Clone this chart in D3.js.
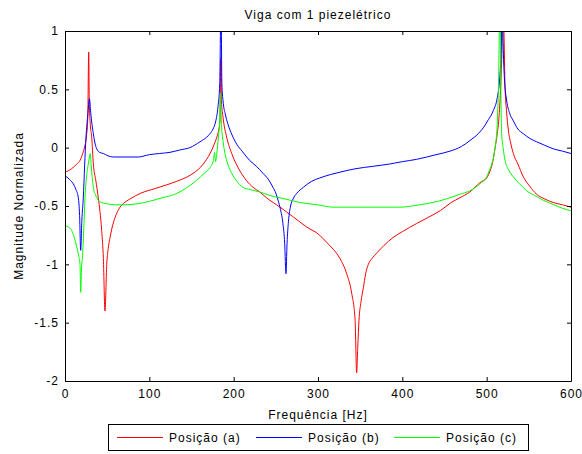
<!DOCTYPE html>
<html>
<head>
<meta charset="utf-8">
<script src="https://cdn.jsdelivr.net/npm/d3@7"></script>
<style>
  html, body { margin: 0; padding: 0; background: #fff; }
  text { font-family: "Liberation Sans", Arial, Helvetica, sans-serif; }
</style>
</head>
<body>
<svg id="chart" width="582" height="454"></svg>
<script>
// ---- data (frequency in Hz, normalized magnitude) ----
const titleText = "Viga com 1 piezelétrico";
const xLabel = "Frequência [Hz]";
const yLabel = "Magnitude Normalizada";
const seriesNames = ["Posição (a)", "Posição (b)", "Posição (c)"];
const seriesColors = ["#ff0000", "#0000ff", "#00ff00"];
const xTicks = [0, 100, 200, 300, 400, 500, 600];
const yTicks = [1, 0.5, 0, -0.5, -1, -1.5, -2];
const yTickLabels = ["1", "0.5", "0", "-0.5", "-1", "-1.5", "-2"];

const seriesA = [
  [0,-0.21],[8,-0.18],[14,-0.14],[17.8,-0.11],[21,-0.05],[23.7,0.02],[25.5,0.10],[27,0.25],[28.1,0.82],[28.8,0.40],
  [30,0.20],[31.7,0.09],[33.6,-0.14],[36.5,-0.28],[39.5,-0.43],[43.5,-0.71],[45.5,-0.95],[47.4,-1.40],[49.5,-1.0],[51.5,-0.85],
  [53.4,-0.77],[56,-0.68],[59.3,-0.60],[65.2,-0.51],[69,-0.48],[77,-0.44],[90,-0.39],[107,-0.35],[120,-0.32],[132,-0.29],
  [145,-0.25],[152,-0.22],[164,-0.14],[172,-0.05],[177,0.03],[180,0.09],[182.5,0.16],[183.8,0.23],[184.6,0.77],[185.5,0.40],
  [187.4,0.26],[191.7,0.09],[197.7,-0.05],[207.5,-0.20],[215,-0.28],[223,-0.34],[231,-0.38],[239,-0.43],[255,-0.51],[270,-0.59],
  [286.6,-0.68],[302,-0.75],[310,-0.81],[318,-0.87],[326,-0.95],[334,-1.08],[340,-1.25],[344,-1.48],[345.8,-1.93],[347.2,-1.70],
  [348.6,-1.48],[351,-1.32],[353.8,-1.20],[356.5,-1.08],[359.7,-1.0],[364,-0.95],[370,-0.90],[378,-0.84],[389,-0.77],[400,-0.72],
  [417,-0.65],[430,-0.60],[445,-0.54],[458,-0.47],[468,-0.43],[480,-0.38],[492,-0.30],[500,-0.26],[504,-0.20],[507.5,-0.11],
  [510,0.0],[512,0.09],[514.5,0.25],[516.5,0.50],[518,0.80],[519.5,1.30],[520.5,1.00],[521.8,0.52],[523.5,0.32],[525.7,0.15],
  [528.5,0.04],[531.6,-0.05],[537,-0.14],[543.5,-0.25],[551,-0.33],[559.3,-0.40],[569,-0.44],[579,-0.47],[590,-0.49],[600,-0.51]
];

const seriesB = [
  [0,-0.24],[5,-0.27],[9.8,-0.31],[13,-0.36],[15.8,-0.43],[17.3,-0.58],[18.6,-0.88],[20,-0.62],[21.7,-0.43],[23.3,-0.15],
  [24.9,0.09],[27,0.28],[29,0.42],[30.5,0.30],[32,0.20],[33.6,0.12],[35.5,0.04],[37.6,-0.01],[41,-0.04],[45.4,-0.05],
  [51,-0.07],[57.3,-0.08],[70,-0.08],[87,-0.08],[100,-0.06],[112,-0.05],[124.5,-0.04],[136,-0.02],[148,0.0],[160,0.05],
  [168,0.09],[172,0.12],[175.5,0.16],[178.5,0.22],[181.4,0.35],[183.5,0.55],[185,1.30],[186,0.55],[187.4,0.40],[190,0.29],
  [193.3,0.20],[198,0.11],[203.6,0.03],[210,-0.03],[219,-0.11],[227,-0.16],[234.8,-0.22],[241,-0.27],[246.6,-0.34],[250,-0.39],
  [252.6,-0.45],[255.5,-0.53],[258.4,-0.65],[260.5,-0.82],[262,-1.08],[263.3,-0.82],[265,-0.63],[267.5,-0.50],[270.4,-0.44],[275,-0.39],
  [282.6,-0.34],[292,-0.29],[302,-0.26],[315,-0.23],[326,-0.21],[345,-0.18],[365,-0.16],[385,-0.14],[400,-0.12],[417,-0.10],
  [440,-0.06],[456.5,-0.03],[470,0.01],[480,0.06],[490,0.12],[496,0.17],[502,0.24],[508,0.32],[512.6,0.43],[515.5,0.60],
  [517.5,0.90],[518.5,1.30],[519.5,0.90],[521,0.60],[523.8,0.40],[527,0.30],[531.6,0.23],[537,0.16],[543.5,0.12],[551,0.08],
  [559.3,0.05],[569,0.02],[579,-0.01],[590,-0.03],[600,-0.05]
];

const seriesC = [
  [0,-0.67],[4,-0.68],[7.9,-0.71],[11,-0.77],[13.9,-0.85],[16,-0.92],[17.8,-1.0],[18.6,-1.24],[19.5,-1.05],[21,-0.90],
  [22.5,-0.65],[23.7,-0.43],[25.5,-0.25],[27.6,-0.14],[29,-0.08],[30,-0.05],[31,-0.15],[32.2,-0.25],[33.6,-0.34],[36,-0.40],
  [39.5,-0.45],[43.5,-0.47],[49.4,-0.48],[59.3,-0.49],[70,-0.49],[86.6,-0.48],[100,-0.46],[115,-0.43],[130,-0.40],[145,-0.34],
  [156,-0.28],[165,-0.22],[172,-0.17],[176,-0.11],[177.3,-0.04],[178.5,-0.12],[180,-0.05],[182,0.10],[183.5,0.25],[184.2,0.47],
  [185,0.30],[185.8,0.17],[187.5,0.05],[189.7,-0.05],[193,-0.14],[197.7,-0.22],[204,-0.29],[211,-0.34],[220,-0.36],[231,-0.38],
  [243,-0.41],[255,-0.43],[266.8,-0.45],[278.7,-0.47],[300,-0.49],[317.8,-0.51],[350,-0.51],[397,-0.51],[420,-0.49],[436,-0.47],
  [452,-0.44],[468,-0.40],[480,-0.37],[492,-0.31],[500,-0.25],[503,-0.20],[506,-0.14],[508.5,-0.07],[510,0.0],[512.5,0.20],
  [514,0.52],[516,1.30],[517,0.40],[517.8,0.12],[519.5,0.0],[521.8,-0.11],[526,-0.19],[531.6,-0.25],[539,-0.31],[547.5,-0.37],
  [557,-0.41],[567,-0.45],[580,-0.49],[590,-0.52],[600,-0.54]
];

const allSeries = [seriesA, seriesB, seriesC];

// ---- layout ----
const plot = { left: 65, right: 571, top: 31, bottom: 381 };
const svg = d3.select("#chart");

const x = d3.scaleLinear().domain([0, 600]).range([plot.left, plot.right]);
const y = d3.scaleLinear().domain([-2, 1]).range([plot.bottom, plot.top]);

svg.append("rect").attr("width", 582).attr("height", 454).attr("fill", "#fff");

svg.append("defs").append("clipPath").attr("id", "clip")
  .append("rect")
  .attr("x", plot.left).attr("y", plot.top)
  .attr("width", plot.right - plot.left).attr("height", plot.bottom - plot.top);

const line = d3.line().curve(d3.curveMonotoneX).x(d => x(d[0])).y(d => y(d[1]));

const g = svg.append("g").attr("clip-path", "url(#clip)");
allSeries.forEach((s, i) => {
  g.append("path")
    .datum(s)
    .attr("fill", "none")
    .attr("stroke", seriesColors[i])
    .attr("stroke-width", 1)
    .attr("d", line);
});

// axes (MATLAB box with inward ticks)
const fontSize = "12px";
const axB = svg.append("g").attr("transform", `translate(0,${plot.bottom})`)
  .call(d3.axisBottom(x).tickValues(xTicks).tickFormat(d3.format("d"))
    .tickSizeInner(-4).tickSizeOuter(0).tickPadding(8));
const axT = svg.append("g").attr("transform", `translate(0,${plot.top})`)
  .call(d3.axisTop(x).tickValues(xTicks).tickFormat("")
    .tickSizeInner(-4).tickSizeOuter(0));
const axL = svg.append("g").attr("transform", `translate(${plot.left},0)`)
  .call(d3.axisLeft(y).tickValues(yTicks).tickFormat((d, i) => yTickLabels[i])
    .tickSizeInner(-4).tickSizeOuter(0).tickPadding(6));
const axR = svg.append("g").attr("transform", `translate(${plot.right},0)`)
  .call(d3.axisRight(y).tickValues(yTicks).tickFormat("")
    .tickSizeInner(-4).tickSizeOuter(0));

[axB, axT, axL, axR].forEach(a => {
  a.select(".domain").attr("stroke", "#000").attr("stroke-width", 1);
  a.selectAll(".tick line").attr("stroke", "#000");
  a.selectAll("text").attr("fill", "#000")
    .style("font-family", "'Liberation Sans', Arial, sans-serif")
    .style("font-size", fontSize).style("letter-spacing", "1px");
});

// title
svg.append("text")
  .attr("x", (plot.left + plot.right) / 2).attr("y", 19)
  .attr("text-anchor", "middle")
  .style("font-size", fontSize).style("letter-spacing", "1px")
  .text(titleText);

// x label
svg.append("text")
  .attr("x", (plot.left + plot.right) / 2).attr("y", 419)
  .attr("text-anchor", "middle")
  .style("font-size", fontSize).style("letter-spacing", "1px")
  .text(xLabel);

// y label
svg.append("text")
  .attr("transform", `translate(23,${(plot.top + plot.bottom) / 2}) rotate(-90)`)
  .attr("text-anchor", "middle")
  .style("font-size", fontSize).style("letter-spacing", "1px")
  .text(yLabel);

// legend
const leg = svg.append("g");
leg.append("rect")
  .attr("x", 108.5).attr("y", 424.5).attr("width", 420).attr("height", 26)
  .attr("fill", "#fff").attr("stroke", "#000").attr("stroke-width", 1);
const legX = [117, 256, 394];
seriesNames.forEach((name, i) => {
  leg.append("line")
    .attr("x1", legX[i]).attr("x2", legX[i] + 46)
    .attr("y1", 437.5).attr("y2", 437.5)
    .attr("stroke", seriesColors[i]).attr("stroke-width", 1);
  leg.append("text")
    .attr("x", legX[i] + 52).attr("y", 442)
    .style("font-size", fontSize).style("letter-spacing", "1px")
    .text(name);
});
</script>
</body>
</html>
